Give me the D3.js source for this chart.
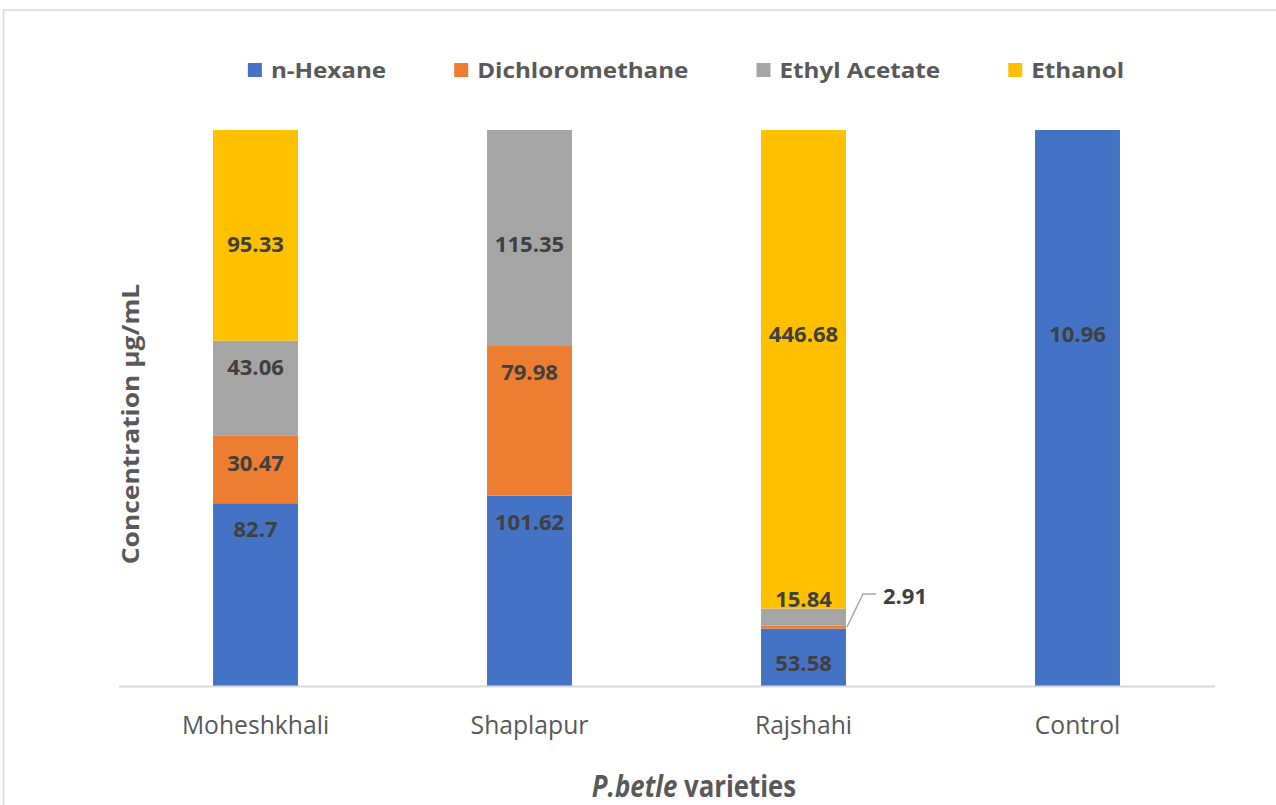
<!DOCTYPE html>
<html>
<head>
<meta charset="utf-8">
<script src="https://cdn.jsdelivr.net/npm/d3@7"></script>
<style>
  html, body { margin: 0; padding: 0; background: #ffffff; }
  svg { display: block; font-family: "Open Sans", "Noto Sans", sans-serif; }
</style>
</head>
<body>
<svg id="chart" width="1276" height="805"></svg>
<script>
// ---- data ----
const categories = ["Moheshkhali", "Shaplapur", "Rajshahi", "Control"];
const seriesNames = ["n-Hexane", "Dichloromethane", "Ethyl Acetate", "Ethanol"];
const nHexane        = [82.7, 101.62, 53.58, 10.96];
const dichloromethane = [30.47, 79.98, 2.91, 0];
const ethylAcetate   = [43.06, 115.35, 15.84, 0];
const ethanol        = [95.33, 0, 446.68, 0];
const seriesValues = [nHexane, dichloromethane, ethylAcetate, ethanol];

// label anchor (share of the 100% stack, from bottom) as placed in the original
const labelShare = [
  [0.281, 0.293, 0.040, 0.631],
  [0.399, 0.563, 0.160, null],
  [0.572, 0.793, 0.155, null],
  [0.793, null, 0.631, null]
];
// labels shown outside the bar with a leader line: [seriesIndex, categoryIndex]
const outsideLabels = [[1, 2]];

// ---- style ----
const colors = ["#4472C4", "#ED7D31", "#A5A5A5", "#FFC000"];
const svg = d3.select("#chart");
const plot = { left: 118.5, right: 1214.5, top: 130, bottom: 686 };

// frame
svg.append("rect").attr("x", 3.5).attr("y", 10).attr("width", 1320).attr("height", 900)
  .attr("fill", "#fff").attr("stroke", "#d9d9d9").attr("stroke-width", 1.5);

const x = d3.scaleBand().domain(categories).range([plot.left, plot.right])
  .paddingInner(0.69).paddingOuter(0.345);
const y = d3.scaleLinear().domain([0, 1]).range([plot.bottom, plot.top]);

// stack as 100%
const rows = categories.map((c, i) => {
  const r = { category: c };
  seriesNames.forEach((s, j) => r[s] = seriesValues[j][i]);
  return r;
});
const stack = d3.stack().keys(seriesNames).offset(d3.stackOffsetExpand);
const stacked = stack(rows);

function addText(parent, px, py, str, opts) {
  const g = parent.append("g").attr("transform", `translate(${px},${py})` + (opts.rotate ? ` rotate(${opts.rotate})` : ""));
  const t = g.append("text")
    .attr("transform", `scale(${opts.sx || 1},1)`)
    .attr("text-anchor", opts.anchor || "middle")
    .attr("font-size", opts.size)
    .attr("font-weight", opts.weight || "normal")
    .attr("fill", opts.fill || "#595959");
  if (str !== null) t.text(str);
  return t;
}

// bars
const layers = svg.append("g").selectAll("g").data(stacked).join("g")
  .attr("fill", (d, i) => colors[i]);
layers.selectAll("rect").data(d => d).join("rect")
  .attr("x", d => x(d.data.category))
  .attr("width", x.bandwidth())
  .attr("y", d => y(d[1]))
  .attr("height", d => Math.max(0, y(d[0]) - y(d[1])));

// axis line
const xAxis = d3.axisBottom(x).tickSize(0).tickPadding(0);
const axG = svg.append("g").attr("transform", `translate(0,${plot.bottom})`).call(xAxis);
axG.select(".domain").attr("stroke", "#d9d9d9").attr("stroke-width", 2);
axG.selectAll(".tick text").remove();
categories.forEach(c => {
  addText(svg, x(c) + x.bandwidth() / 2, 734, c, { size: 26, sx: 0.95, fill: "#595959" });
});

// value labels
const lblG = svg.append("g");
stacked.forEach((layer, si) => {
  layer.forEach((d, ci) => {
    const v = seriesValues[si][ci];
    if (!v) return;
    const isOutside = outsideLabels.some(o => o[0] === si && o[1] === ci);
    if (isOutside) {
      const bx = x(d.data.category) + x.bandwidth();
      const segMid = y((d[0] + d[1]) / 2);
      const ly = y(labelShare[si][ci]);
      lblG.append("polyline")
        .attr("points", [[bx + 1, segMid], [bx + 17, ly - 3], [bx + 30, ly - 3]].map(p => p.join(",")).join(" "))
        .attr("fill", "none").attr("stroke", "#a6a6a6").attr("stroke-width", 1.5);
      addText(lblG, bx + 37, ly + 7, String(v), { size: 21, weight: "bold", sx: 1.05, anchor: "start", fill: "#404040" });
    } else {
      const ly = y(labelShare[si][ci]);
      addText(lblG, x(d.data.category) + x.bandwidth() / 2, ly + 7, String(v),
        { size: 21, weight: "bold", sx: 1.05, fill: "#404040" });
    }
  });
});

// legend
const legG = svg.append("g");
const legendSize = 22, legendSx = 1.1, sq = 14, gapSq = 9, gapItem = 68;
const tmp = svg.append("text").attr("font-size", legendSize).attr("font-weight", "bold");
const widths = seriesNames.map(s => { tmp.text(s); return tmp.node().getComputedTextLength() * legendSx; });
tmp.remove();
const total = d3.sum(widths) + seriesNames.length * (sq + gapSq) + (seriesNames.length - 1) * gapItem;
let lx = 686 - total / 2;
seriesNames.forEach((s, i) => {
  legG.append("rect").attr("x", lx).attr("y", 63).attr("width", sq).attr("height", sq).attr("fill", colors[i]);
  addText(legG, lx + sq + gapSq, 78, s, { size: legendSize, weight: "bold", sx: legendSx, anchor: "start", fill: "#595959" });
  lx += sq + gapSq + widths[i] + gapItem;
});

// axis titles
addText(svg, 139, 424, "Concentration µg/mL", { size: 24, weight: "bold", sx: 1.1, rotate: -90, fill: "#595959" });
const xt = addText(svg, 694, 797, null, { size: 30, weight: "bold", sx: 0.86, fill: "#595959" });
xt.append("tspan").attr("font-style", "italic").text("P.betle");
xt.append("tspan").text(" varieties");
</script>
</body>
</html>
